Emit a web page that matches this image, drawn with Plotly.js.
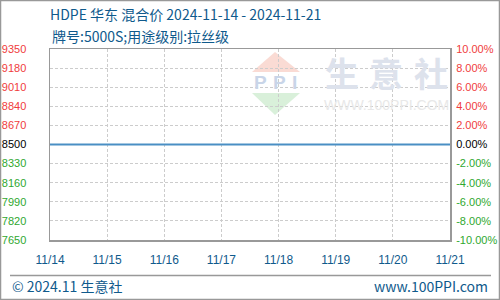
<!DOCTYPE html>
<html><head><meta charset="utf-8">
<script src="https://cdn.plot.ly/plotly-3.0.1.min.js"></script>
<style>html,body{margin:0;padding:0;background:#fff}#c{width:500px;height:300px}</style>
</head><body><div id="c"></div>
<script>
var dates = ['11/14','11/15','11/16','11/17','11/18','11/19','11/20','11/21'];
var prices = [8500,8500,8500,8500,8500,8500,8500,8500];
var basePrice = 8500;
var leftTicks = [7650,7820,7990,8160,8330,8500,8670,8840,9010,9180,9350];
var rightTicks = [-10,-8,-6,-4,-2,0,2,4,6,8,10];

var RED='#f03c3c', GREEN='#2fa82f', BLACK='#000000', BLUE='#0f5a8c';
function col(v,b){return v>b?RED:(v<b?GREEN:BLACK);}
var leftText = leftTicks.map(function(v){return '<span style="color:'+col(v,basePrice)+'">'+v+'</span>';});
var rightText = rightTicks.map(function(v){return '<span style="color:'+col(v,0)+'">'+v.toFixed(2)+'%</span>';});
var pct = prices.map(function(v){return (v-basePrice)/basePrice*100;});

var L=50,R=450,T=49,B=240;
function px(x){return (x-L)/(R-L);}
function py(y){return (B-y)/(B-T);}

var traces = [
 {x:dates,y:prices,type:'scatter',mode:'lines',line:{color:'#4a8fc4',width:2},hoverinfo:'none',yaxis:'y'},
 {x:dates,y:pct,type:'scatter',mode:'lines',line:{color:'rgba(0,0,0,0)',width:0},hoverinfo:'none',yaxis:'y2'}
];

var shapes = [
 {type:'rect',xref:'paper',yref:'paper',x0:px(0.5),x1:px(499.5),y0:py(0.5),y1:py(299.5),line:{color:'#999',width:1.5},layer:'below'},
 {type:'line',xref:'paper',yref:'paper',x0:px(10),x1:px(491),y0:py(275.5),y1:py(275.5),line:{color:'#999',width:1.5}},
 {type:'path',xref:'paper',yref:'paper',path:'M '+px(275)+' '+py(52)+' L '+px(300)+' '+py(72)+' L '+px(252)+' '+py(72)+' Z',fillcolor:'#fadbd4',line:{width:0},layer:'below'},
 {type:'path',xref:'paper',yref:'paper',path:'M '+px(252)+' '+py(93)+' L '+px(300)+' '+py(93)+' L '+px(275)+' '+py(115)+' Z',fillcolor:'#d9f0da',line:{width:0},layer:'below'}
];

var wm = '#dde2ec';
function ann(x,y,text,size,color,family,anchor){
 return {xref:'paper',yref:'paper',x:px(x),y:py(y),xanchor:anchor||'center',yanchor:'middle',text:text,showarrow:false,font:{family:family,size:size,color:color}};
}
var annotations = [
 ann(50,36,'牌号:5000S;用途级别:拉丝级',14,BLUE,'Noto Sans CJK SC','left'),
 ann(10,286,'© 2024.11 生意社',14,BLUE,'Noto Sans CJK SC','left'),
 ann(490,286,'www.100PPI.com',14,BLUE,'Noto Sans CJK SC','right'),
 ann(342,72,'<b>生</b>',34,wm,'Noto Sans CJK SC'),
 ann(386,72,'<b>意</b>',34,wm,'Noto Sans CJK SC'),
 ann(431,72,'<b>社</b>',34,wm,'Noto Sans CJK SC'),
 ann(386,105,'WWW.100PPI.COM',14,'#e8e8e8','Liberation Sans'),
 ann(260,82,'<b>P</b>',19,'#c9d5e8','Liberation Sans'),
 ann(279,82,'<b>P</b>',19,'#c9d5e8','Liberation Sans'),
 ann(294,82,'<b>I</b>',19,'#c9d5e8','Liberation Sans')
];

var layout = {
 width:500,height:300,
 margin:{l:L,r:500-R,t:T,b:300-B,pad:0},
 paper_bgcolor:'#fff',plot_bgcolor:'#fff',
 showlegend:false,
 title:{text:'HDPE 华东 混合价 2024-11-14 - 2024-11-21',x:0.1,xref:'container',xanchor:'left',y:1-15/300,yref:'container',yanchor:'middle',font:{family:'Noto Sans CJK SC',size:14,color:BLUE}},
 xaxis:{type:'category',range:[0,7],showgrid:true,gridcolor:'#cccccc',griddash:'3px,2px',gridwidth:1,
   showline:true,linecolor:'#999',linewidth:1.5,mirror:true,zeroline:false,
   ticks:'outside',ticklen:8,tickcolor:'rgba(0,0,0,0)',tickfont:{family:'Liberation Sans',size:12,color:BLUE},fixedrange:true},
 yaxis:{range:[7650,9350],tickvals:leftTicks,ticktext:leftText,showgrid:true,gridcolor:'#cccccc',griddash:'3px,2px',gridwidth:1,
   showline:true,linecolor:'#999',linewidth:1.5,mirror:true,zeroline:false,
   ticks:'outside',ticklen:20,tickcolor:'rgba(0,0,0,0)',tickfont:{family:'Liberation Sans',size:11}},
 yaxis2:{range:[-10,10],tickvals:rightTicks,ticktext:rightText,overlaying:'y',side:'right',showgrid:false,zeroline:false,showline:false,
   ticks:'outside',ticklen:3,tickcolor:'rgba(0,0,0,0)',tickfont:{family:'Liberation Sans',size:11}},
 shapes:shapes,
 annotations:annotations
};
Plotly.newPlot('c',traces,layout,{staticPlot:true});
</script></body></html>
